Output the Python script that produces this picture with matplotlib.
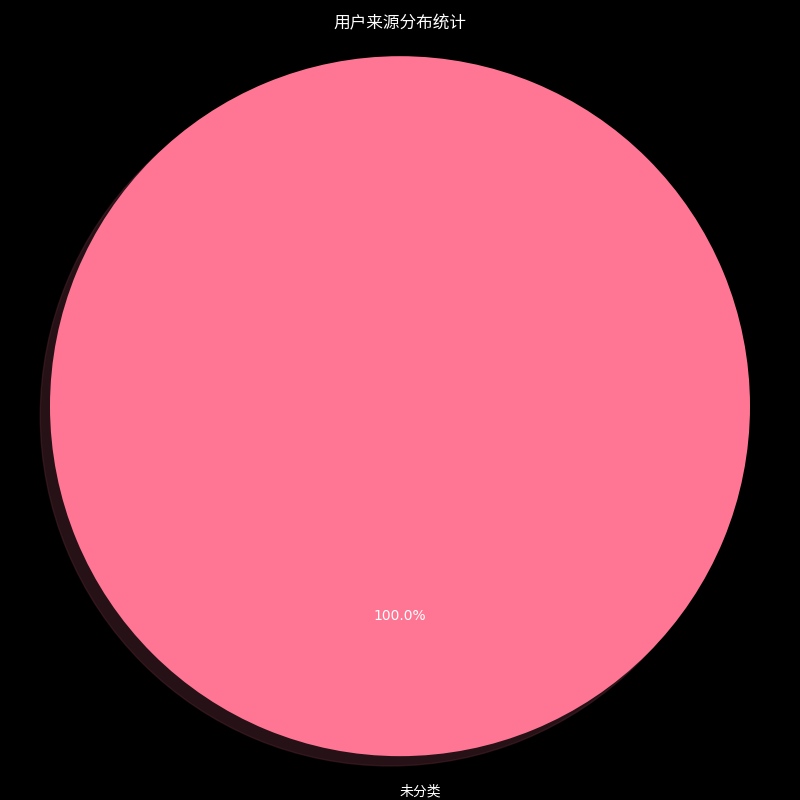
import matplotlib.pyplot as plt

plt.rcParams['font.family'] = ['Noto Sans CJK SC', 'DejaVu Sans']

# data
labels = ['未分类']
sizes = [100]
colors = ['#FF7694']
title = '用户来源分布统计'

fig, ax = plt.subplots(figsize=(8, 8), dpi=100)
fig.patch.set_facecolor('black')
ax.set_facecolor('black')

wedges, texts, autotexts = ax.pie(sizes, labels=labels, colors=colors,
                                  autopct='%1.1f%%', shadow=True, startangle=90)
for t in texts:
    t.set_color('white')
for t in autotexts:
    t.set_color('white')
    t.set_family(['DejaVu Sans'])
ax.set_title(title, color='white', fontsize=12)
ax.axis('equal')
plt.tight_layout()
plt.savefig('out.png', facecolor=fig.get_facecolor())
